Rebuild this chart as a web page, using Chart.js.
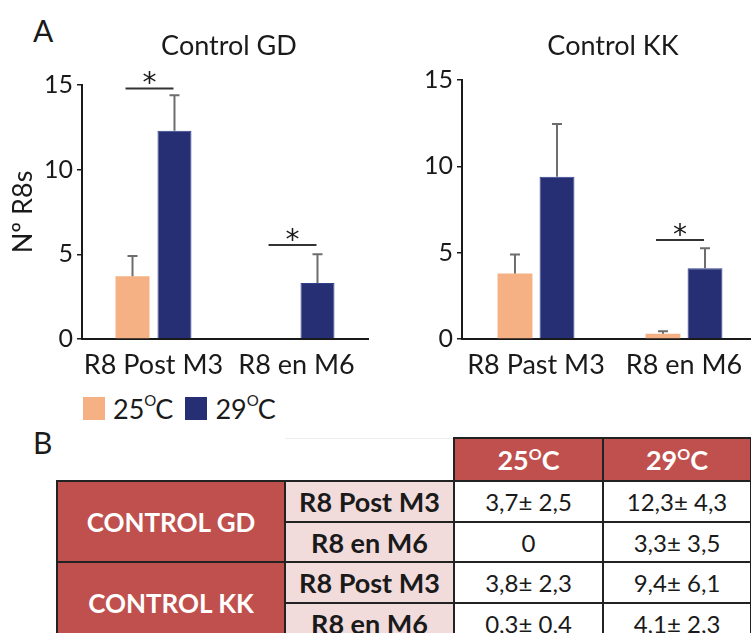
<!DOCTYPE html>
<html>
<head>
<meta charset="utf-8">
<script src="https://cdn.jsdelivr.net/npm/chart.js@4"></script>
<style>
  html, body { margin: 0; padding: 0; background: #fff; }
  body { width: 751px; height: 633px; overflow: hidden; position: relative; font-family: Lato, sans-serif; color: #1a1a1a; }
  .panel { position: absolute; top: 0; }
  .letter { position: absolute; font-size: 30px; }
  #legend { position: absolute; left: 83px; top: 392px; display: flex; align-items: center; font-size: 27px; }
  #legend .sw { width: 22px; height: 23px; margin-right: 8px; }
  #legend .item { display: flex; align-items: center; margin-right: 12px; }
  .deg { font-size: 15px; position: relative; top: -13px; margin-right: -1px; }
  #tbl { position: absolute; left: 56px; top: 437px; border-collapse: collapse; table-layout: fixed; width: 694px; }
  #tbl td { border: 2px solid #222; text-align: center; padding: 0; white-space: nowrap; }
  #tbl td.blank { border: none; }
  #tbl td.blank2 { border: none; border-top: 1px solid #eee; }
  #tbl td.head { background: #c0504d; color: #fff; font-weight: bold; font-size: 27px; }
  #tbl td.group { background: #c0504d; color: #fff; font-weight: bold; font-size: 26px; }
  #tbl td.sub { background: #f2dcdb; font-weight: bold; font-size: 27px; }
  #tbl td.val { background: #fff; font-size: 24px; }
  #tbl sup { font-size: 16px; vertical-align: 10px; }
</style>
</head>
<body>
<div class="letter" style="left:33px; top:12px;">A</div>
<div class="panel" style="left:0; width:375px; height:385px;"><canvas id="gd"></canvas></div>
<div class="panel" style="left:375px; width:390px; height:385px;"><canvas id="kk"></canvas></div>
<div id="legend"></div>
<div class="letter" style="left:33px; top:424px;">B</div>
<table id="tbl"></table>

<script>
// categories and series
const catsGD = ["R8 Post M3", "R8 en M6"];
const catsKK = ["R8 Past M3", "R8 en M6"];
const temps = ["25", "29"];

const gd25 = [3.7, 0];
const gd29 = [12.3, 3.3];
const gd25err = [1.2, 0];
const gd29err = [2.1, 1.7];

const kk25 = [3.8, 0.3];
const kk29 = [9.4, 4.1];
const kk25err = [1.1, 0.15];
const kk29err = [3.05, 1.15];

// significance marks: category index, height
const sigGD = [{ index: 0, value: 14.8 }, { index: 1, value: 5.55 }];
const sigKK = [{ index: 1, value: 5.73 }];

// table
const groups = ["CONTROL GD", "CONTROL KK"];
const rowLabels = ["R8 Post M3", "R8 en M6"];
const tableVals = [
  ["3,7\u00b1 2,5", "12,3\u00b1 4,3"],
  ["0", "3,3\u00b1 3,5"],
  ["3,8\u00b1 2,3", "9,4\u00b1 6,1"],
  ["0,3\u00b1 0,4", "4,1\u00b1 2,3"]
];

const ORANGE = "#f5b183";
const NAVY = "#262f73";

Chart.defaults.font.family = "Lato";
Chart.defaults.color = "#1a1a1a";

// error bars, title and asterisks
const extras = {
  id: "extras",
  afterDatasetsDraw(chart, args, opts) {
    const ctx = chart.ctx;
    const y = chart.scales.y;
    const area = chart.chartArea;
    ctx.save();
    chart.data.datasets.forEach((ds, i) => {
      const meta = chart.getDatasetMeta(i);
      meta.data.forEach((bar, j) => {
        const e = ds.errors[j];
        if (!e) return;
        const top = y.getPixelForValue(ds.data[j] + e);
        ctx.strokeStyle = "#6d6d6d";
        ctx.lineWidth = 2;
        ctx.beginPath();
        ctx.moveTo(bar.x, bar.y);
        ctx.lineTo(bar.x, top);
        ctx.moveTo(bar.x - 5, top);
        ctx.lineTo(bar.x + 5, top);
        ctx.stroke();
      });
    });

    // significance
    const m0 = chart.getDatasetMeta(0), m1 = chart.getDatasetMeta(1);
    opts.marks.forEach(m => {
      const x1 = m0.data[m.index].x - 7;
      const x2 = m1.data[m.index].x - 1;
      const py = y.getPixelForValue(m.value);
      ctx.strokeStyle = "#333";
      ctx.lineWidth = 2;
      ctx.beginPath();
      ctx.moveTo(x1, py);
      ctx.lineTo(x2, py);
      ctx.stroke();
      ctx.fillStyle = "#1a1a1a";
      ctx.font = "28px 'DejaVu Sans'";
      ctx.textAlign = "center";
      ctx.textBaseline = "alphabetic";
      ctx.fillText("*", (x1 + x2) / 2, py + 4);
    });

    // panel title
    ctx.fillStyle = "#1a1a1a";
    ctx.font = "27px Lato";
    ctx.textAlign = "center";
    ctx.textBaseline = "alphabetic";
    ctx.fillText(opts.title, (area.left + area.right) / 2 + opts.titleShift, 55);
    ctx.restore();
  }
};

function makeChart(id, cats, s25, s29, e25, e29, cfg) {
  return new Chart(id, {
    type: "bar",
    data: {
      labels: cats,
      datasets: [
        { label: temps[0], data: s25, errors: e25, backgroundColor: ORANGE },
        { label: temps[1], data: s29, errors: e29, backgroundColor: NAVY, borderColor: "#34408f", borderWidth: 1 }
      ]
    },
    options: {
      responsive: true,
      maintainAspectRatio: false,
      animation: false,
      categoryPercentage: cfg.cat,
      barPercentage: cfg.bar,
      layout: { padding: { top: cfg.top, right: 7, left: 0, bottom: 0 } },
      plugins: {
        legend: { display: false },
        tooltip: { enabled: false },
        extras: { title: cfg.title, titleShift: cfg.titleShift, marks: cfg.marks }
      },
      scales: {
        x: {
          grid: { display: false },
          border: { display: true, color: "#1a1a1a", width: 2 },
          ticks: { font: { size: 27 }, padding: 2, color: "#1a1a1a", maxRotation: 0, autoSkip: false },
          afterFit(scale) { scale.height = 46; }
        },
        y: {
          min: 0, max: 15,
          ticks: { stepSize: 5, font: { size: 25 }, padding: 4, color: "#1a1a1a" },
          grid: { drawOnChartArea: false, drawTicks: true, tickLength: 5, color: "#1a1a1a", lineWidth: 1.5 },
          border: { display: true, color: "#1a1a1a", width: 2 },
          title: cfg.yTitle ? { display: true, text: "N\u00ba R8s", font: { size: 27 }, padding: { top: 7, bottom: 0 }, color: "#1a1a1a" } : { display: false },
          afterFit(scale) { scale.width = cfg.yWidth; }
        }
      }
    },
    plugins: [extras]
  });
}

makeChart("gd", catsGD, gd25, gd29, gd25err, gd29err,
  { cat: 0.587, bar: 0.81, top: 85, yWidth: 82, yTitle: true, title: "Control GD", titleShift: 4, marks: sigGD });
makeChart("kk", catsKK, kk25, kk29, kk25err, kk29err,
  { cat: 0.568, bar: 0.83, top: 80, yWidth: 87, yTitle: false, title: "Control KK", titleShift: 3, marks: sigKK });

// legend
const legend = document.getElementById("legend");
[ORANGE, NAVY].forEach((c, i) => {
  const it = document.createElement("div");
  it.className = "item";
  it.innerHTML = '<div class="sw" style="background:' + c + '"></div><span>' + temps[i] + '<span class="deg">O</span>C</span>';
  legend.appendChild(it);
});

// table
const tbl = document.getElementById("tbl");
const colW = [228, 169, 149, 148];
let html = "<colgroup>" + colW.map(w => '<col style="width:' + w + 'px">').join("") + "</colgroup>";
html += '<tr style="height:43px"><td class="blank"></td><td class="blank2"></td>' +
  temps.map(t => '<td class="head">' + t + '<sup>O</sup>C</td>').join("") + "</tr>";
let r = 0;
groups.forEach((g, gi) => {
  rowLabels.forEach((lab, li) => {
    html += '<tr style="height:' + (li === 0 ? 41 : 40) + 'px">';
    if (li === 0) html += '<td class="group" rowspan="2">' + g + "</td>";
    html += '<td class="sub">' + lab + "</td>";
    html += tableVals[r].map(v => '<td class="val">' + v + "</td>").join("");
    html += "</tr>";
    r++;
  });
});
tbl.innerHTML = html;
</script>
</body>
</html>
